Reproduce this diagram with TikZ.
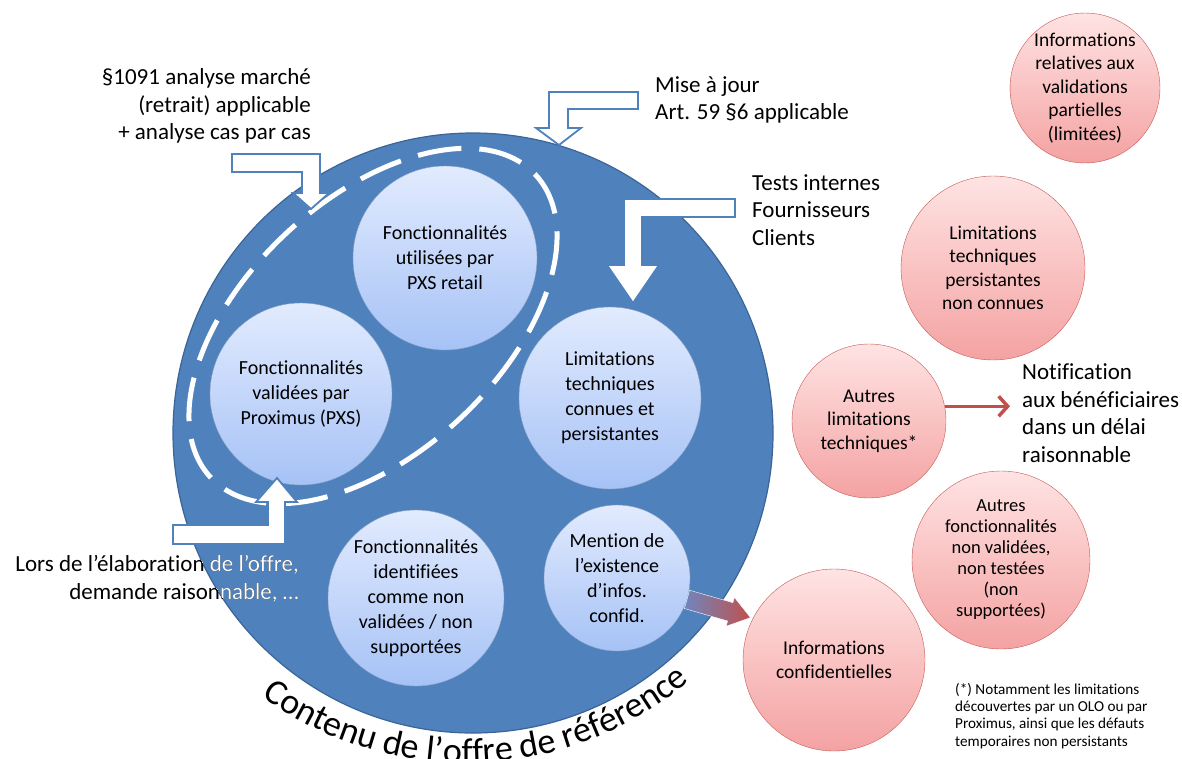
\documentclass[tikz,border=0pt]{standalone}
\usepackage{fontspec}
\setmainfont{Carlito}[Ligatures={NoCommon,NoContextual}]
\usetikzlibrary{arrows.meta,decorations.text}
\definecolor{pxsblue}{HTML}{4F81BD}
\definecolor{pxsline}{HTML}{3B6497}
\definecolor{lightT}{HTML}{E2EBFE}
\definecolor{lightB}{HTML}{A6C2F6}
\definecolor{pinkT}{HTML}{FFE3E3}
\definecolor{pinkB}{HTML}{F4A2A2}
\definecolor{pinkline}{HTML}{C45A57}
\definecolor{redarrow}{HTML}{C0504D}
\definecolor{greyblue}{HTML}{6F86BE}
\begin{document}
\begin{tikzpicture}[x=1pt, y=-1pt,
  pxscircle/.style={circle, draw=pxsline!60, top color=lightT, bottom color=lightB, minimum size=#1, inner sep=0pt, align=center, font=\fontsize{20}{25}\selectfont},
  extcircle/.style={circle, draw=pinkline, top color=pinkT, bottom color=pinkB, minimum size=#1, inner sep=0pt, align=center, font=\fontsize{19.5}{23.5}\selectfont},
  outertext/.style={inner sep=0pt, font=\fontsize{23}{27.5}\selectfont},
  blockarrow/.style={draw=pxsblue, line width=1.8pt, fill=white, line join=miter}]
\useasboundingbox (0,0) rectangle (1182,758);
% Offre de reference
\node[circle, fill=pxsblue, draw=pxsline, line width=1.2pt, minimum size=600, inner sep=0pt] (offre) at (473,433) {};
\draw[white, line width=5pt, dash pattern=on 44pt off 18pt, rotate around={43:(373,326)}] (373,326) ellipse [x radius=222, y radius=127];

\node[pxscircle=184] (retail) at (445,258) {Fonctionnalités\\utilisées par\\PXS retail};
\node[pxscircle=182] (valid) at (301,394) {Fonctionnalités\\validées par\\Proximus (PXS)};
\node[pxscircle=182] (connues) at (610,398) {Limitations\\techniques\\connues et\\persistantes};
\node[pxscircle=176] (nonvalid) at (416,598) {Fonctionnalités\\identifiées\\comme non\\validées / non\\supportées};
\node[pxscircle=146] (mention) at (617,578) {Mention de\\l’existence\\d’infos.\\confid.};

% Block arrows
\draw[blockarrow] (232,154) -- (320,154) -- (320,193) -- (329,193) -- (311,209) -- (293,193) -- (302,193) -- (302,172) -- (232,172) -- cycle;
\draw[blockarrow] (549,92) -- (638,92) -- (638,109) -- (568,109) -- (568,128) -- (581,128) -- (559,145) -- (536,128) -- (549,128) -- cycle;
\draw[blockarrow] (624,199) -- (735,199) -- (735,217) -- (642,217) -- (642,265) -- (659,265) -- (633,303) -- (607,265) -- (624,265) -- cycle;
\draw[blockarrow] (173,544) -- (285,544) -- (285,502) -- (297,502) -- (277,478) -- (256,502) -- (268,502) -- (268,525) -- (173,525) -- cycle;

% Outside
\node[extcircle=148] (partielles) at (1085,88) {Informations\\relatives aux\\validations\\partielles\\(limitées)};
\node[extcircle=184] (inconnues) at (993,268) {Limitations\\techniques\\persistantes\\non connues};
\node[extcircle=154] (autres) at (869,421) {Autres\\limitations\\techniques*};
\node[extcircle=178, font=\fontsize{18.5}{21}\selectfont] (nonsupp) at (1001,560) {Autres\\fonctionnalités\\non validées,\\non testées\\(non\\supportées)};
\node[extcircle=182] (confid) at (834,660) {Informations\\confidentielles};

% Texts
\node[outertext, align=right, anchor=east] (marche) at (311,106) {§1091 analyse marché\\(retrait) applicable\\+ analyse cas par cas};
\node[outertext, align=left, anchor=west] (misejour) at (655,100) {Mise à jour\\Art. 59 §6 applicable};
\node[outertext, align=left, anchor=west] (tests) at (752,210) {Tests internes\\Fournisseurs\\Clients};
\node[outertext, align=left, anchor=west] (notif) at (1022,413) {Notification\\aux bénéficiaires\\dans un délai\\raisonnable};
\node[outertext, align=right, anchor=east] (lors) at (299,579) {Lors de l’élaboration de l’offre,\\demande raisonnable, …};
\begin{scope}
  \clip (473,433) circle [radius=300];
  \node[outertext, white, align=right, anchor=east] (lorsw) at (299,579) {Lors de l’élaboration de l’offre,\\demande raisonnable, …};
\end{scope}
\node[inner sep=0pt, align=left, anchor=west, font=\fontsize{15.2}{17.2}\selectfont] (note) at (955,716) {(*) Notamment les limitations\\découvertes par un OLO ou par\\Proximus, ainsi que les défauts\\temporaires non persistants};

% Connectors
\draw[redarrow, line width=3.5pt, shorten >=12pt, -{Straight Barb[length=9pt,width=20pt]}] (autres.11) -- (autres.11 -| notif.west);
\begin{scope}[shift={(mention.-17)}, rotate=-16]
  \shade[left color=greyblue, right color=redarrow, draw=white, thin] (0,-9.5) -- (45,-9.5) -- (45,-15) -- (66,0) -- (45,15) -- (45,9.5) -- (0,9.5) -- cycle;
\end{scope}

\path[decorate, decoration={text along path, text align=center, text={|\fontsize{36}{40}\selectfont|Contenu de l’offre de référence}}] (466,418) ++(148:345) arc[start angle=148, end angle=28, radius=345];
\end{tikzpicture}
\end{document}
